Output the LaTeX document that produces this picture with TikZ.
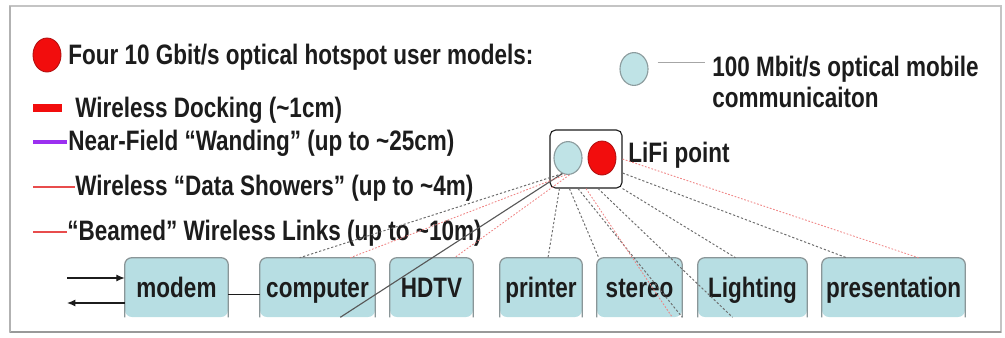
\documentclass[tikz,border=0pt]{standalone}
\usepackage{fontspec}
\setmainfont[FakeStretch=0.8]{Liberation Sans}
\usepackage{tikz}
\usetikzlibrary{calc,arrows.meta,shapes.geometric}
\definecolor{ink}{HTML}{1C1C1C}
\definecolor{hot}{HTML}{F20D0D}
\definecolor{hotedge}{HTML}{B01010}
\definecolor{mobfill}{HTML}{BFE3E6}
\definecolor{mobedge}{HTML}{8C9C9E}
\definecolor{devfill}{HTML}{B7DEE3}
\definecolor{devedge}{HTML}{8A9698}
\definecolor{wand}{HTML}{9B30F0}
\definecolor{shower}{HTML}{E84C4C}
\definecolor{link}{HTML}{6E6E6E}
\definecolor{rim}{HTML}{C4C4C4}
\tikzset{
  txt/.style={text=ink, font=\fontsize{20}{21.5}\selectfont\bfseries, inner sep=0pt},
  hotdot/.style={ellipse, fill=hot, draw=hotedge, line width=0.6pt, minimum width=0.7cm, minimum height=0.85cm, inner sep=0pt},
  mobdot/.style={ellipse, fill=mobfill, draw=mobedge, line width=0.8pt, minimum width=0.7cm, minimum height=0.82cm, inner sep=0pt},
  dev/.style={txt, fill=devfill, rounded corners=5pt, minimum height=1.475cm, text height=14pt, text depth=0pt},
  devline/.style={draw=devedge, line width=0.9pt, rounded corners=5pt},
  wire/.style={draw=link, line width=0.7pt, dash pattern=on 1.6pt off 1.4pt},
  redwire/.style={draw=shower!70, line width=0.6pt, dash pattern=on 1.2pt off 1.2pt},
  solidwire/.style={draw=link!80!black, line width=0.8pt},
  ext/.style={draw=ink, line width=0.8pt, -{Latex[length=6pt,width=5pt]}},
}

\begin{document}
\begin{tikzpicture}[x=0.025cm, y=-0.025cm]
  \useasboundingbox (0,0) rectangle (1005,337);
  \draw[draw=rim, line width=1pt] (10,6) rectangle (1001,332);
  \draw[draw=gray!80, line width=1.4pt] (10,332) -- (1001,332);
  \draw[draw=gray!60, line width=1.2pt] (10,6) -- (10,332);

  % legend, left column
  \node[hotdot] (hotkey) at (47,55) {};
  \node[txt, anchor=west] (hottxt) at (68,57) {Four 10 Gbit/s optical hotspot user models:};
  \draw[draw=hot, line width=5pt] (33,108) -- (62,108);
  \node[txt, anchor=west] (docktxt) at (75,110) {Wireless Docking (\textasciitilde1cm)};
  \draw[draw=wand, line width=3pt] (33,142) -- (67,142);
  \node[txt, anchor=west] (wandtxt) at (68,143) {Near-Field “Wanding” (up to \textasciitilde25cm)};
  \draw[draw=shower, line width=0.9pt] (33,187) -- (75,187);
  \node[txt, anchor=west] (showtxt) at (75,188) {Wireless “Data Showers” (up to \textasciitilde4m)};
  \draw[draw=shower, line width=0.9pt] (33,232) -- (67,232);
  \node[txt, anchor=west] (beamtxt) at (67,233) {“Beamed” Wireless Links (up to \textasciitilde10m)};

  % legend, mobile link
  \node[mobdot] (mobkey) at (634,69) {};
  \coordinate (mobend) at (705,62);
  \draw[draw=gray!70, line width=0.6pt] ($(mobkey.east |- mobend)+(9,0)$) -- (mobend);
  \node[txt, anchor=west, align=left] (mobtxt) at (712,82) {100 Mbit/s optical mobile\\communicaiton};

  % LiFi point
  \node[draw=ink, line width=0.8pt, rounded corners=4pt, minimum width=1.8cm, minimum height=1.45cm] (lifi) at (586,159) {};
  \node[mobdot] (lmob) at (568,158) {};
  \node[hotdot] (lhot) at (602,158) {};
  \node[txt, anchor=west] (lifitxt) at (628,155) {LiFi point};

  % devices
  \node[dev, minimum width=2.575cm] (modem) at (176.5,287.5) {modem};
  \node[dev, minimum width=2.875cm] (computer) at (317.5,287.5) {computer};
  \node[dev, minimum width=2.075cm] (hdtv) at (431.5,287.5) {HDTV};
  \node[dev, minimum width=2.05cm] (printer) at (541,287.5) {printer};
  \node[dev, minimum width=2.125cm] (stereo) at (639.5,287.5) {stereo};
  \node[dev, minimum width=2.725cm] (lighting) at (752.5,287.5) {Lighting};
  \node[dev, minimum width=3.575cm] (presentation) at (893.5,287.5) {presentation};
  \draw[devline] (modem.south west) |- (modem.north east) -- (modem.south east);
  \draw[devline] (computer.south west) |- (computer.north east) -- (computer.south east);
  \draw[devline] (hdtv.south west) |- (hdtv.north east) -- (hdtv.south east);
  \draw[devline] (printer.south west) |- (printer.north east) -- (printer.south east);
  \draw[devline] (stereo.south west) |- (stereo.north east) -- (stereo.south east);
  \draw[devline] (lighting.south west) |- (lighting.north east) -- (lighting.south east);
  \draw[devline] (presentation.south west) |- (presentation.north east) -- (presentation.south east);

  % outside world and cable
  \coordinate (inA) at (67,278);
  \coordinate (outB) at (67,303);
  \draw[ext] (inA) -- (inA -| modem.west);
  \draw[ext] (outB -| modem.west) -- (outB);
  \draw[draw=ink, line width=0.8pt] ($(modem.east)+(0,7)$) -- ($(computer.west)+(0,7)$);

  % optical links
  \draw[wire] (lmob.250) -- ($(computer.north west)+(40,0)$);
  \draw[solidwire] (lmob.250) -- ($(computer.south east)+(-35,0)$);
  \draw[redwire] (lmob.262) -- ($(computer.north east)+(-25,0)$);
  \draw[redwire] (lmob.275) -- ($(hdtv.north)+(23,0)$);
  \draw[wire] ($(lifi.south west)+(10,0)$) -- ($(printer.north)+(7,0)$);
  \draw[wire] ($(lifi.south west)+(20,0)$) -- ($(stereo.north west)+(2,0)$);
  \draw[wire] ($(lifi.south)+(-8,0)$) -- (stereo.south east);
  \draw[redwire] (lifi.south) -- ($(stereo.south east)+(-10,0)$);
  \draw[wire] ($(lifi.south)+(12,0)$) -- ($(lighting.south)+(-20,0)$);
  \draw[wire] (lifi.south east) -- ($(lighting.north)+(-17,0)$);
  \draw[wire] ($(lifi.east)+(0,14)$) -- ($(presentation.north)+(-47,0)$);
  \draw[redwire] (lifi.east) -- ($(presentation.north)+(25,0)$);
\end{tikzpicture}
\end{document}
